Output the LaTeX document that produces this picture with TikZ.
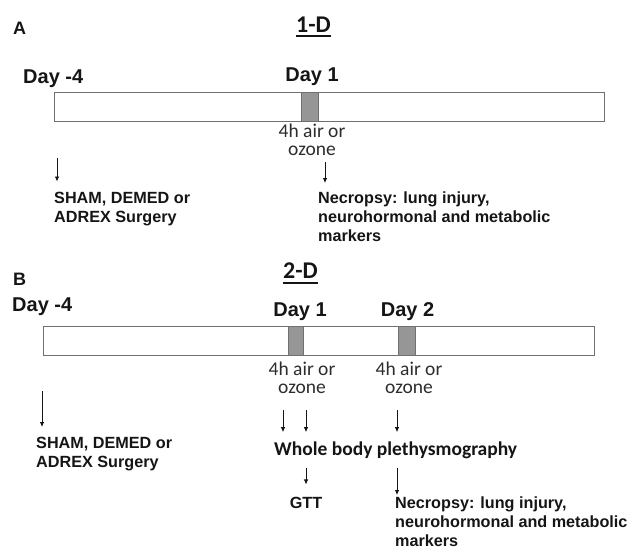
\documentclass[tikz,border=0pt]{standalone}
\usepackage{fontspec}
\setmainfont{Liberation Sans}
\newfontfamily\carl{Carlito}
\usetikzlibrary{arrows.meta}
\definecolor{txt}{HTML}{151515}
\definecolor{barline}{HTML}{707070}
\definecolor{segfill}{HTML}{969696}
\tikzset{
  panellbl/.style={inner sep=0pt, anchor=base west, text=txt, font=\bfseries\fontsize{18}{22}\selectfont},
  titlelbl/.style={inner sep=0pt, anchor=base, text=txt, font=\carl\bfseries\fontsize{24}{28}\selectfont},
  daylbl/.style={inner sep=0pt, text=txt, font=\bfseries\fontsize{20}{24}\selectfont},
  exposlbl/.style={inner sep=0pt, anchor=north, align=center, text=txt!90!white, font=\carl\fontsize{19.5}{18}\selectfont},
  boldtxt/.style={inner sep=0pt, anchor=north west, align=left, text=txt, font=\bfseries\fontsize{16.2}{19.2}\selectfont},
  wbplbl/.style={inner sep=0pt, anchor=base west, text=txt, font=\carl\bfseries\fontsize{19.5}{22}\selectfont},
  timebar/.style={draw=barline, line width=1.4pt, fill=white},
  expseg/.style={draw=barline, line width=1.2pt, fill=segfill},
  arr/.style={draw=txt, line width=0.8pt, -{Latex[length=5pt,width=4.5pt]}},
  uline/.style={draw=txt, line width=1.5pt}
}
\begin{document}
\begin{tikzpicture}[x=1pt,y=-1pt]
\useasboundingbox (0,0) rectangle (628,549);
% ---------------- Panel A ----------------
\node[panellbl] (lblA) at (13,34) {A};
\node[titlelbl] (titA) at (313.5,32) {1-D};
\draw[uline] ([yshift=-4pt]titA.base west) -- ([yshift=-4pt]titA.base east);
\node[daylbl, anchor=base west] (dA0) at (23,83) {Day -4};
\node[daylbl, anchor=base] (dA1) at (312,81) {Day 1};
\node[timebar, inner sep=0pt, minimum width=550pt, minimum height=29pt, anchor=north west] (barA) at (54,92) {};
\node[expseg, inner sep=0pt, minimum width=17pt, minimum height=29pt, anchor=north west] (segA) at (301,92) {};
\node[exposlbl] (expA) at (312,124) {4h air or\\ozone};
\node[boldtxt] (shamA) at (54,191.5) {SHAM, DEMED or\\ADREX Surgery};
\node[boldtxt] (necA) at (318,191.5) {Necropsy: lung injury,\\neurohormonal and metabolic\\markers};
\coordinate (aA1) at (57,158);
\coordinate (aA2) at (325,162);
\draw[arr, shorten >=10pt] (aA1) -- (aA1 |- shamA.north);
\draw[arr, shorten >=8.5pt] (aA2) -- (aA2 |- necA.north);
% ---------------- Panel B ----------------
\node[panellbl] (lblB) at (13,285) {B};
\node[titlelbl] (titB) at (300.5,278) {2-D};
\draw[uline] ([yshift=-5pt]titB.base west) -- ([yshift=-5pt]titB.base east);
\node[daylbl, anchor=base west] (dB0) at (12,311) {Day -4};
\node[daylbl, anchor=base] (dB1) at (300,316) {Day 1};
\node[daylbl, anchor=base] (dB2) at (407.5,316) {Day 2};
\node[timebar, inner sep=0pt, minimum width=551pt, minimum height=29pt, anchor=north west] (barB) at (43,326) {};
\node[expseg, inner sep=0pt, minimum width=15pt, minimum height=29pt, anchor=north west] (segB1) at (288,326) {};
\node[expseg, inner sep=0pt, minimum width=17pt, minimum height=29pt, anchor=north west] (segB2) at (398,326) {};
\node[exposlbl] (expB1) at (302,362) {4h air or\\ozone};
\node[exposlbl] (expB2) at (409,362) {4h air or\\ozone};
\node[boldtxt] (shamB) at (36,436.5) {SHAM, DEMED or\\ADREX Surgery};
\node[wbplbl] (wbp) at (274,455) {Whole body plethysmography};
\node[inner sep=0pt, anchor=base, text=txt, font=\bfseries\fontsize{16.2}{19}\selectfont] (gtt) at (306,508) {GTT};
\node[boldtxt] (necB) at (395,496.5) {Necropsy: lung injury,\\neurohormonal and metabolic\\markers};
\coordinate (aB0) at (42,391);
\coordinate (aB1) at (283,410);
\coordinate (aB2) at (306,410);
\coordinate (aB3) at (397,410);
\coordinate (aB4) at (306,468);
\coordinate (aB5) at (397,468);
\draw[arr, shorten >=9.5pt] (aB0) -- (aB0 |- shamB.north);
\draw[arr, shorten >=9pt] (aB1) -- (aB1 |- wbp.north);
\draw[arr, shorten >=9pt] (aB2) -- (aB2 |- wbp.north);
\draw[arr, shorten >=9pt] (aB3) -- (aB3 |- wbp.north);
\draw[arr, shorten >=12pt] (aB4) -- (aB4 |- gtt.north);
\draw[arr, shorten >=1.5pt] (aB5) -- (aB5 |- necB.north);
\end{tikzpicture}
\end{document}
